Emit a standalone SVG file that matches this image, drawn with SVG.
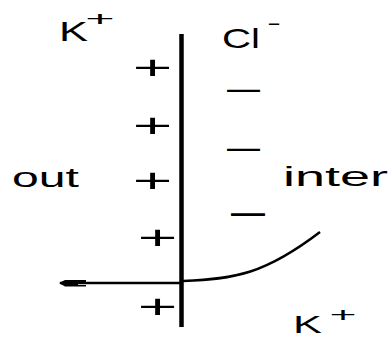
<svg xmlns="http://www.w3.org/2000/svg" width="390" height="338" viewBox="0 0 390 338">
<style>
.t{font-family:"Liberation Sans",Arial,sans-serif;fill:#000}
.pm{font-family:"Liberation Sans",Arial,sans-serif;font-size:34px;fill:#000;text-anchor:middle}
.sp{font-family:"Liberation Sans",Arial,sans-serif;font-size:21px;fill:#000;text-anchor:middle}
.ln{fill:none;stroke:#000;stroke-width:2.5}
</style>
<defs>
<marker id="ah" markerUnits="userSpaceOnUse" markerWidth="30" markerHeight="12" refX="1" refY="6" orient="auto" overflow="visible">
<path d="M0,6 L6,3 L27,3 L27,5 L19,5 L19,8 L27,8 L27,9.5 L6,9.5 Z" fill="#000"/>
</marker>
</defs>
<rect width="390" height="338" fill="#fff"/>
<g id="membrane"><line x1="181.5" y1="34" x2="181.5" y2="327" stroke="#000" stroke-width="4.5"/></g>
<g id="connectors">
<line class="ln" x1="60" y1="283" x2="181" y2="283" marker-start="url(#ah)"/>
<path class="ln" d="M183,281 C235,279 265,274 320,232"/>
</g>
<g id="k-top">
<text class="t" x="59" y="41" font-size="28" textLength="29" lengthAdjust="spacingAndGlyphs">K</text>
<text class="sp" transform="translate(100,19) scale(2.4,1)" y="7.3">+</text>
</g>
<g id="cl">
<text class="t" x="222" y="48" font-size="28" textLength="38" lengthAdjust="spacingAndGlyphs">Cl</text>
<text class="sp" transform="translate(274,24) scale(2,1)" y="6">-</text>
</g>
<g id="out"><text class="t" x="12" y="187" font-size="27" textLength="67" lengthAdjust="spacingAndGlyphs">out</text></g>
<g id="inter"><text class="t" x="283" y="186" font-size="27" textLength="105" lengthAdjust="spacingAndGlyphs">inter</text></g>
<g id="k-bottom">
<text class="t" x="293" y="333" font-size="24" textLength="29" lengthAdjust="spacingAndGlyphs">K</text>
<text class="sp" transform="translate(343,315) scale(2.2,1)" y="7.3">+</text>
</g>
<g id="plus-charges">
<text class="pm" transform="translate(152.5,67) scale(2,1)" y="12">+</text>
<text class="pm" transform="translate(152.5,125) scale(2,1)" y="12">+</text>
<text class="pm" transform="translate(152.5,180) scale(2,1)" y="12">+</text>
<text class="pm" transform="translate(157.5,237) scale(2,1)" y="12">+</text>
<text class="pm" transform="translate(157.5,306) scale(2,1)" y="12">+</text>
</g>
<g id="minus-charges">
<text class="t" x="227" y="99" font-size="33" textLength="33" lengthAdjust="spacingAndGlyphs">—</text>
<text class="t" x="227" y="158" font-size="33" textLength="33" lengthAdjust="spacingAndGlyphs">—</text>
<text class="t" x="231" y="225" font-size="40" textLength="34" lengthAdjust="spacingAndGlyphs">—</text>
</g>
</svg>
